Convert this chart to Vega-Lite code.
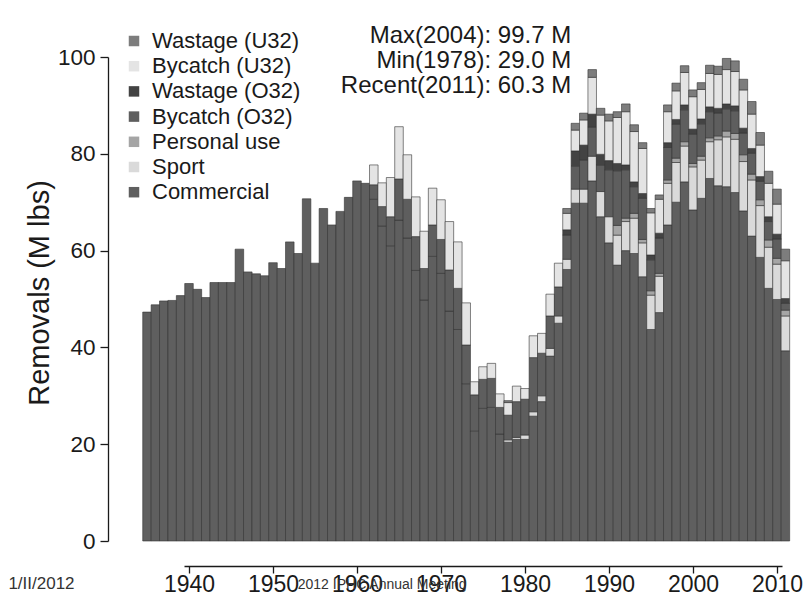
{
  "$schema": "https://vega.github.io/schema/vega-lite/v6.json",
  "width": 598,
  "height": 484,
  "autosize": {"type": "none"},
  "padding": {"left": 184, "top": 57, "right": 27, "bottom": 57},
  "background": "white",
  "config": {"view": {"stroke": null}, "font": "Liberation Sans"},
  "layer": [
    {
      "data": {"values": [
        {"year": 1935, "Commercial": 47.3},
        {"year": 1936, "Commercial": 48.8},
        {"year": 1937, "Commercial": 49.6},
        {"year": 1938, "Commercial": 49.7},
        {"year": 1939, "Commercial": 50.7},
        {"year": 1940, "Commercial": 53.2},
        {"year": 1941, "Commercial": 52.0},
        {"year": 1942, "Commercial": 50.3},
        {"year": 1943, "Commercial": 53.4},
        {"year": 1944, "Commercial": 53.4},
        {"year": 1945, "Commercial": 53.4},
        {"year": 1946, "Commercial": 60.3},
        {"year": 1947, "Commercial": 55.6},
        {"year": 1948, "Commercial": 55.2},
        {"year": 1949, "Commercial": 54.8},
        {"year": 1950, "Commercial": 57.5},
        {"year": 1951, "Commercial": 56.3},
        {"year": 1952, "Commercial": 61.8},
        {"year": 1953, "Commercial": 59.4},
        {"year": 1954, "Commercial": 70.7},
        {"year": 1955, "Commercial": 57.4},
        {"year": 1956, "Commercial": 68.7},
        {"year": 1957, "Commercial": 65.3},
        {"year": 1958, "Commercial": 68.1},
        {"year": 1959, "Commercial": 71.0},
        {"year": 1960, "Commercial": 74.4},
        {"year": 1961, "Commercial": 73.9},
        {"year": 1962, "Commercial": 70.6, "Bycatch (O32)": 3.0, "Bycatch (U32)": 4.1},
        {"year": 1963, "Commercial": 65.1, "Bycatch (O32)": 4.0, "Bycatch (U32)": 4.9},
        {"year": 1964, "Commercial": 61.0, "Bycatch (O32)": 6.0, "Bycatch (U32)": 8.1},
        {"year": 1965, "Commercial": 66.3, "Bycatch (O32)": 8.5, "Bycatch (U32)": 10.8},
        {"year": 1966, "Commercial": 62.6, "Bycatch (O32)": 8.0, "Bycatch (U32)": 9.2},
        {"year": 1967, "Commercial": 55.9, "Bycatch (O32)": 7.0, "Bycatch (U32)": 8.2},
        {"year": 1968, "Commercial": 49.8, "Bycatch (O32)": 6.5, "Bycatch (U32)": 7.7},
        {"year": 1969, "Commercial": 58.8, "Bycatch (O32)": 6.5, "Bycatch (U32)": 7.6},
        {"year": 1970, "Commercial": 55.3, "Bycatch (O32)": 7.0, "Bycatch (U32)": 8.2},
        {"year": 1971, "Commercial": 47.5, "Bycatch (O32)": 8.5, "Bycatch (U32)": 10.0},
        {"year": 1972, "Commercial": 43.7, "Bycatch (O32)": 8.5, "Bycatch (U32)": 9.6},
        {"year": 1973, "Commercial": 32.5, "Bycatch (O32)": 8.0, "Bycatch (U32)": 8.7},
        {"year": 1974, "Commercial": 22.7, "Bycatch (O32)": 7.5, "Bycatch (U32)": 2.7},
        {"year": 1975, "Commercial": 27.4, "Bycatch (O32)": 6.0, "Bycatch (U32)": 2.6},
        {"year": 1976, "Commercial": 27.6, "Bycatch (O32)": 6.0, "Bycatch (U32)": 3.1},
        {"year": 1977, "Commercial": 22.1, "Bycatch (O32)": 5.5, "Bycatch (U32)": 2.8},
        {"year": 1978, "Commercial": 20.4, "Sport": 0.5, "Bycatch (O32)": 5.1, "Bycatch (U32)": 2.6, "Wastage (U32)": 0.4},
        {"year": 1979, "Commercial": 21.0, "Sport": 0.4, "Bycatch (O32)": 7.4, "Bycatch (U32)": 3.2},
        {"year": 1980, "Commercial": 21.0, "Sport": 0.9, "Bycatch (O32)": 7.4, "Bycatch (U32)": 2.2},
        {"year": 1981, "Commercial": 25.8, "Sport": 0.9, "Bycatch (O32)": 11.2, "Bycatch (U32)": 4.5},
        {"year": 1982, "Commercial": 28.8, "Sport": 1.2, "Bycatch (O32)": 8.8, "Bycatch (U32)": 4.1},
        {"year": 1983, "Commercial": 38.2, "Sport": 1.6, "Bycatch (O32)": 6.7, "Bycatch (U32)": 4.5},
        {"year": 1984, "Commercial": 45.0, "Sport": 1.5, "Bycatch (O32)": 6.0, "Bycatch (U32)": 4.9},
        {"year": 1985, "Commercial": 56.1, "Sport": 2.1, "Bycatch (O32)": 5.0, "Wastage (O32)": 1.1, "Bycatch (U32)": 3.4, "Wastage (U32)": 1.0},
        {"year": 1986, "Commercial": 69.8, "Sport": 2.9, "Bycatch (O32)": 4.8, "Wastage (O32)": 3.1, "Bycatch (U32)": 4.3, "Wastage (U32)": 1.4},
        {"year": 1987, "Commercial": 69.8, "Sport": 2.9, "Bycatch (O32)": 6.0, "Wastage (O32)": 3.1, "Bycatch (U32)": 5.2, "Wastage (U32)": 1.4},
        {"year": 1988, "Commercial": 74.4, "Sport": 5.1, "Bycatch (O32)": 6.0, "Wastage (O32)": 2.7, "Bycatch (U32)": 7.6, "Wastage (U32)": 1.6},
        {"year": 1989, "Commercial": 67.0, "Sport": 5.2, "Bycatch (O32)": 5.5, "Wastage (O32)": 2.2, "Bycatch (U32)": 8.1, "Wastage (U32)": 1.4},
        {"year": 1990, "Commercial": 61.6, "Sport": 5.4, "Bycatch (O32)": 9.7, "Wastage (O32)": 1.9, "Bycatch (U32)": 8.2, "Wastage (U32)": 1.4},
        {"year": 1991, "Commercial": 57.0, "Sport": 6.2, "Personal use": 2.0, "Bycatch (O32)": 11.3, "Wastage (O32)": 1.5, "Bycatch (U32)": 9.5, "Wastage (U32)": 1.2},
        {"year": 1992, "Commercial": 60.0, "Sport": 6.0, "Personal use": 0.7, "Bycatch (O32)": 10.0, "Wastage (O32)": 1.0, "Bycatch (U32)": 11.0, "Wastage (U32)": 1.6},
        {"year": 1993, "Commercial": 59.4, "Sport": 7.3, "Personal use": 1.0, "Bycatch (O32)": 5.5, "Wastage (O32)": 1.0, "Bycatch (U32)": 10.4, "Wastage (U32)": 1.4},
        {"year": 1994, "Commercial": 54.6, "Sport": 7.0, "Personal use": 0.7, "Bycatch (O32)": 8.5, "Wastage (O32)": 1.0, "Bycatch (U32)": 9.3, "Wastage (U32)": 1.2},
        {"year": 1995, "Commercial": 43.7, "Sport": 7.1, "Personal use": 0.9, "Bycatch (O32)": 6.4, "Wastage (O32)": 1.0, "Bycatch (U32)": 8.7, "Wastage (U32)": 0.9},
        {"year": 1996, "Commercial": 47.2, "Sport": 7.5, "Personal use": 0.6, "Bycatch (O32)": 7.3, "Wastage (O32)": 1.0, "Bycatch (U32)": 7.0, "Wastage (U32)": 0.9},
        {"year": 1997, "Commercial": 65.3, "Sport": 8.6, "Personal use": 0.7, "Bycatch (O32)": 6.7, "Wastage (O32)": 1.0, "Bycatch (U32)": 6.4, "Wastage (U32)": 1.4},
        {"year": 1998, "Commercial": 70.0, "Sport": 8.2, "Personal use": 0.9, "Bycatch (O32)": 7.0, "Wastage (O32)": 1.0, "Bycatch (U32)": 5.9, "Wastage (U32)": 1.6},
        {"year": 1999, "Commercial": 74.2, "Sport": 7.4, "Personal use": 0.9, "Bycatch (O32)": 6.6, "Wastage (O32)": 1.0, "Bycatch (U32)": 6.7, "Wastage (U32)": 1.4},
        {"year": 2000, "Commercial": 68.4, "Sport": 8.9, "Personal use": 0.7, "Bycatch (O32)": 6.1, "Wastage (O32)": 1.0, "Bycatch (U32)": 6.7, "Wastage (U32)": 1.4},
        {"year": 2001, "Commercial": 70.8, "Sport": 7.9, "Personal use": 0.8, "Bycatch (O32)": 6.7, "Wastage (O32)": 1.0, "Bycatch (U32)": 6.1, "Wastage (U32)": 1.4},
        {"year": 2002, "Commercial": 74.9, "Sport": 7.6, "Personal use": 0.8, "Bycatch (O32)": 5.4, "Wastage (O32)": 1.0, "Bycatch (U32)": 6.9, "Wastage (U32)": 1.7},
        {"year": 2003, "Commercial": 73.4, "Sport": 9.5, "Personal use": 0.8, "Bycatch (O32)": 4.7, "Wastage (O32)": 1.0, "Bycatch (U32)": 7.0, "Wastage (U32)": 1.7},
        {"year": 2004, "Commercial": 73.2, "Sport": 10.3, "Personal use": 1.2, "Bycatch (O32)": 4.6, "Wastage (O32)": 1.0, "Bycatch (U32)": 7.1, "Wastage (U32)": 2.3},
        {"year": 2005, "Commercial": 72.0, "Sport": 11.0, "Personal use": 1.2, "Bycatch (O32)": 4.7, "Wastage (O32)": 1.0, "Bycatch (U32)": 7.1, "Wastage (U32)": 2.2},
        {"year": 2006, "Commercial": 68.2, "Sport": 10.2, "Personal use": 1.4, "Bycatch (O32)": 4.5, "Wastage (O32)": 1.0, "Bycatch (U32)": 7.9, "Wastage (U32)": 2.2},
        {"year": 2007, "Commercial": 63.0, "Sport": 11.6, "Personal use": 1.2, "Bycatch (O32)": 4.3, "Wastage (O32)": 1.0, "Bycatch (U32)": 7.1, "Wastage (U32)": 2.6},
        {"year": 2008, "Commercial": 58.6, "Sport": 10.7, "Personal use": 1.2, "Bycatch (O32)": 3.8, "Wastage (O32)": 1.0, "Bycatch (U32)": 6.5, "Wastage (U32)": 2.6},
        {"year": 2009, "Commercial": 52.2, "Sport": 8.5, "Personal use": 1.5, "Bycatch (O32)": 3.8, "Wastage (O32)": 1.0, "Bycatch (U32)": 6.9, "Wastage (U32)": 2.5},
        {"year": 2010, "Commercial": 49.9, "Sport": 7.3, "Personal use": 1.2, "Bycatch (O32)": 4.0, "Wastage (O32)": 1.0, "Bycatch (U32)": 6.2, "Wastage (U32)": 3.1},
        {"year": 2011, "Commercial": 39.3, "Sport": 7.2, "Personal use": 1.2, "Bycatch (O32)": 1.4, "Wastage (O32)": 1.0, "Bycatch (U32)": 7.8, "Wastage (U32)": 2.4}
      ]},
      "transform": [
        {"fold": ["Commercial", "Sport", "Personal use", "Bycatch (O32)", "Wastage (O32)", "Bycatch (U32)", "Wastage (U32)"], "as": ["cat", "v"]},
        {"filter": "datum.v > 0"},
        {"lookup": "cat", "from": {"data": {"values": [
          {"cat": "Commercial", "rank": 1},
          {"cat": "Sport", "rank": 2},
          {"cat": "Personal use", "rank": 3},
          {"cat": "Bycatch (O32)", "rank": 4},
          {"cat": "Wastage (O32)", "rank": 5},
          {"cat": "Bycatch (U32)", "rank": 6},
          {"cat": "Wastage (U32)", "rank": 7}
        ]}, "key": "cat", "fields": ["rank"]}}
      ],
      "mark": {"type": "bar", "size": 8.54, "stroke": "#333333", "strokeWidth": 0.6},
      "encoding": {
        "x": {
          "field": "year", "type": "quantitative",
          "scale": {"domain": [1940, 2010], "nice": false, "zero": false},
          "axis": {
            "title": null, "values": [1940, 1950, 1960, 1970, 1980, 1990, 2000, 2010], "format": "d",
            "offset": 25, "tickSize": 7, "labelPadding": 0, "labelFontSize": 23, "labelFont": "Liberation Sans",
            "labelColor": "#1a1a1a", "domainColor": "#1a1a1a", "tickColor": "#1a1a1a", "domainWidth": 1.3, "tickWidth": 1.3,
            "grid": false, "labelFlush": false, "labelOverlap": false
          }
        },
        "y": {
          "field": "v", "type": "quantitative", "stack": "zero",
          "scale": {"domain": [0, 100], "nice": false},
          "axis": {
            "title": "Removals (M lbs)", "titleFontSize": 29, "titleFont": "Liberation Sans", "titleFontWeight": "normal",
            "titleColor": "#1a1a1a", "titlePadding": 3, "titleY": 235.5,
            "values": [0, 20, 40, 60, 80, 100], "offset": 76, "tickSize": 8, "labelPadding": 5,
            "labelFontSize": 22.5, "labelFont": "Liberation Sans", "labelColor": "#1a1a1a",
            "domainColor": "#1a1a1a", "tickColor": "#1a1a1a", "domainWidth": 1.3, "tickWidth": 1.3,
            "grid": false, "labelFlush": false, "labelOverlap": false
          }
        },
        "color": {
          "field": "cat", "type": "nominal",
          "scale": {
            "domain": ["Wastage (U32)", "Bycatch (U32)", "Wastage (O32)", "Bycatch (O32)", "Personal use", "Sport", "Commercial"],
            "range": ["#7d7d7d", "#e4e4e4", "#434343", "#5e5e5e", "#a5a5a5", "#dadada", "#5f5f5f"]
          },
          "legend": {
            "orient": "none", "legendX": -61, "legendY": -27, "title": null,
            "symbolType": "square", "symbolSize": 110, "symbolStrokeWidth": 0,
            "labelFontSize": 22, "labelFont": "Liberation Sans", "labelColor": "#1a1a1a",
            "rowPadding": 3.2, "labelOffset": 7, "padding": 0
          }
        },
        "order": {"field": "rank", "type": "quantitative", "sort": "ascending"}
      }
    },
    {
      "data": {"values": [{}]},
      "mark": {"type": "text", "text": ["Max(2004): 99.7 M", "Min(1978): 29.0 M", "Recent(2011): 60.3 M"],
               "align": "right", "baseline": "alphabetic", "fontSize": 24, "lineHeight": 25,
               "font": "Liberation Sans", "color": "#1a1a1a"},
      "encoding": {
        "x": {"datum": 1985.5, "type": "quantitative"},
        "y": {"datum": 102.8, "type": "quantitative"}
      }
    },
    {
      "data": {"values": [{}]},
      "mark": {"type": "text", "text": "1/II/2012", "align": "left", "baseline": "alphabetic",
               "fontSize": 17, "font": "Liberation Sans", "color": "#333333"},
      "encoding": {
        "x": {"datum": 1918.5, "type": "quantitative"},
        "y": {"datum": -10.0, "type": "quantitative"}
      }
    },
    {
      "data": {"values": [{}]},
      "mark": {"type": "text", "text": "2012 IPHC Annual Meeting", "align": "center", "baseline": "alphabetic",
               "fontSize": 14, "font": "Liberation Sans", "color": "#333333"},
      "encoding": {
        "x": {"datum": 1963.0, "type": "quantitative"},
        "y": {"datum": -10.0, "type": "quantitative"}
      }
    }
  ]
}
